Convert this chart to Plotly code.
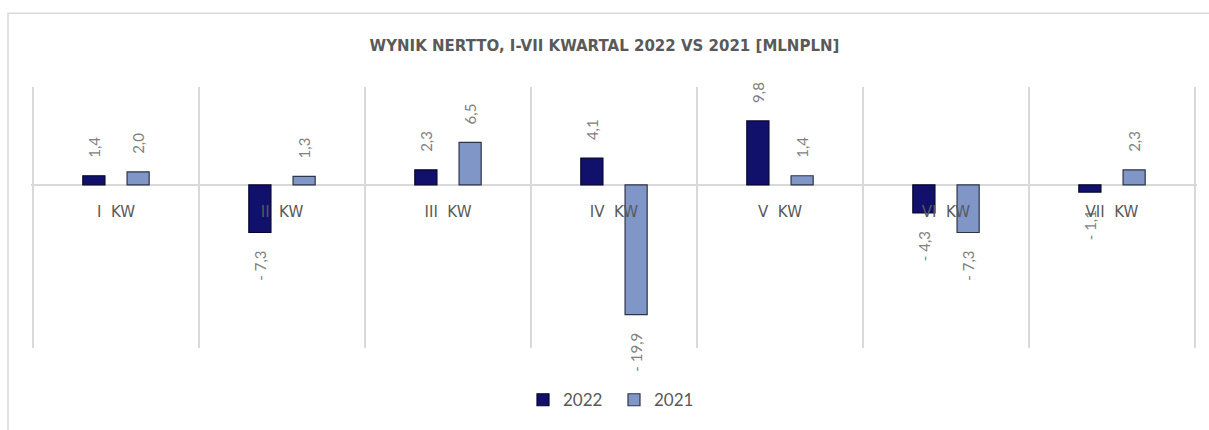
import plotly.graph_objects as go

categories = ["I KW", "II KW", "III KW", "IV KW", "V KW", "VI KW", "VII KW"]
values_2022 = [1.4, -7.3, 2.3, 4.1, 9.8, -4.3, -1.1]
values_2021 = [2.0, 1.3, 6.5, -19.9, 1.4, -7.3, 2.3]
series_names = ["2022", "2021"]
title_text = "WYNIK NERTTO, I-VII KWARTAL 2022 VS 2021 [MLNPLN]"

FONT = "Lato, 'Open Sans', sans-serif"
PAD = "\u2002\u2002"


def fmt(v):
    s = f"{abs(v):.1f}".replace(".", ",")
    # pad toward the bar so the rotated label sits a little away from it
    return ("- " + s + PAD) if v < 0 else (PAD + s)


def tick(c):
    return c.replace(" ", "\u00a0\u00a0")


fig = go.Figure()
fig.add_trace(go.Bar(
    x=categories, y=values_2022, name=series_names[0],
    marker=dict(color="#11116b", line=dict(color="#05052e", width=1.2)),
    text=[fmt(v) for v in values_2022], textposition="outside", textangle=-90,
    textfont=dict(color="#7f7f7f", size=15, family=FONT),
    cliponaxis=False, constraintext="none",
))
fig.add_trace(go.Bar(
    x=categories, y=values_2021, name=series_names[1],
    marker=dict(color="#8096c6", line=dict(color="#2c3448", width=1.2)),
    text=[fmt(v) for v in values_2021], textposition="outside", textangle=-90,
    textfont=dict(color="#7f7f7f", size=15, family=FONT),
    cliponaxis=False, constraintext="none",
))
# invisible trace on overlay axis to drive category-boundary gridlines
n = len(categories)
ext = 2 / 166  # small range extension so the outer boundary gridlines are drawn
fig.add_trace(go.Scatter(x=[-0.5, n - 0.5], y=[0, 0], xaxis="x2",
                         mode="markers", marker=dict(opacity=0), showlegend=False,
                         hoverinfo="skip"))

ymin, ymax = -25, 15
fig.update_layout(
    width=1209, height=430,
    margin=dict(l=31, r=12, t=87, b=78),
    paper_bgcolor="white", plot_bgcolor="white",
    barmode="group", bargap=0.467, bargroupgap=0.5,
    title=dict(text=f"<b>{title_text}</b>", x=0.5, xanchor="center",
               y=1 - 46 / 430, yanchor="middle",
               font=dict(family="'DejaVu Sans', sans-serif", size=15, color="#595959")),
    font=dict(family=FONT, color="#595959"),
    xaxis=dict(type="category", range=[-0.5 - ext, n - 0.5 + ext],
               tickvals=categories, ticktext=[tick(c) for c in categories],
               anchor="free", position=(0 - ymin) / (ymax - ymin),
               showgrid=False, zeroline=False, showline=False,
               ticks="", ticklabelstandoff=16,
               tickfont=dict(family="'DejaVu Sans', sans-serif", size=15, color="#595959")),
    xaxis2=dict(overlaying="x", range=[-0.5 - ext, n - 0.5 + ext],
                tick0=-0.5, dtick=1,
                showgrid=True, gridcolor="#d9d9d9", gridwidth=1.5,
                showticklabels=False, zeroline=False, showline=False, ticks=""),
    yaxis=dict(range=[ymin, ymax], showgrid=False, showticklabels=False,
               zeroline=True, zerolinecolor="#d9d9d9", zerolinewidth=2, ticks=""),
    legend=dict(orientation="h", x=0.5, xanchor="center", y=-0.2, yanchor="middle",
                font=dict(family=FONT, size=17, color="#595959"),
                itemwidth=30, entrywidth=46, traceorder="normal"),
    showlegend=True,
    shapes=[dict(type="rect", xref="paper", yref="paper",
                 x0=-23 / 1166, x1=1.2, y0=-0.5, y1=1 + 75 / 265,
                 line=dict(color="#d9d9d9", width=1.5), layer="below")],
)

fig.write_html("out.html", config={"displayModeBar": False},
               post_script="document.body.style.margin='0';")
